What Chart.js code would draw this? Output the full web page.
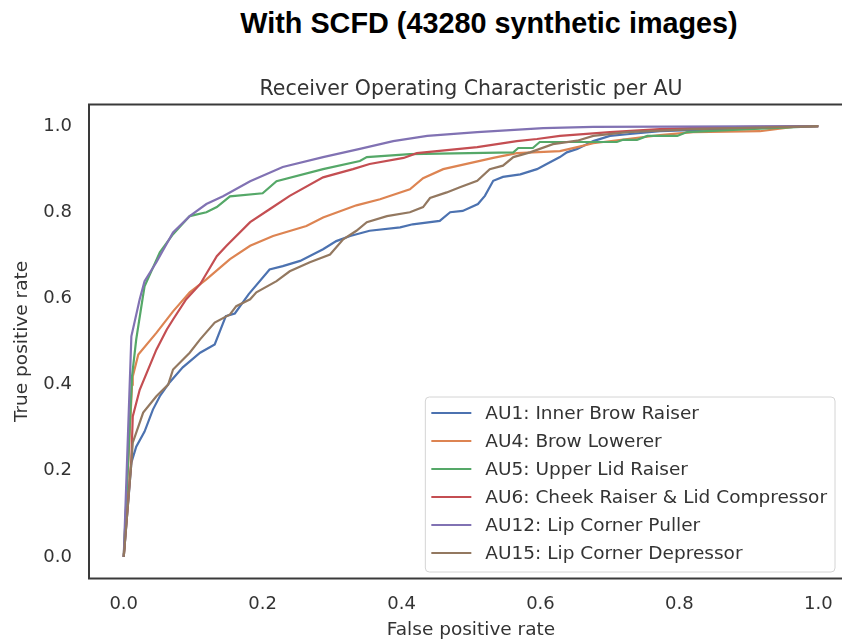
<!DOCTYPE html>
<html>
<head>
<meta charset="utf-8">
<script src="https://cdn.jsdelivr.net/npm/chart.js@4.4.0/dist/chart.umd.min.js"></script>
<style>
  html, body { margin: 0; padding: 0; background: #fff; overflow: hidden; width: 842px; height: 641px; }
  #heading {
    position: absolute; top: 7px; left: 489px; transform: translateX(-50%);
    font-family: "Liberation Sans", Arial, sans-serif; font-weight: bold; font-size: 28.8px;
    color: #000; white-space: nowrap; line-height: 32px;
  }
  #wrap { position: absolute; left: 0; top: 0; width: 942px; height: 641px; }
</style>
</head>
<body>
<div id="heading">With SCFD (43280 synthetic images)</div>
<div id="wrap"><canvas id="roc" width="942" height="641"></canvas></div>
<script>
// ROC curves per action unit
const labels = [
  'AU1: Inner Brow Raiser',
  'AU4: Brow Lowerer',
  'AU5: Upper Lid Raiser',
  'AU6: Cheek Raiser & Lid Compressor',
  'AU12: Lip Corner Puller',
  'AU15: Lip Corner Depressor'
];
const colors = ['#4C72B0', '#DD8452', '#55A868', '#C44E52', '#8172B3', '#937860'];

const au1Fpr = [0, 0.011, 0.018, 0.030, 0.042, 0.052, 0.066, 0.085, 0.110, 0.131, 0.147, 0.160, 0.180, 0.210, 0.229, 0.254, 0.287, 0.306, 0.326, 0.354, 0.398, 0.416, 0.455, 0.470, 0.488, 0.510, 0.520, 0.532, 0.546, 0.571, 0.595, 0.609, 0.628, 0.638, 0.653, 0.676, 0.700, 0.725, 0.772, 0.850, 0.930, 1.0];
const au1Tpr = [0, 0.219, 0.256, 0.291, 0.342, 0.373, 0.405, 0.440, 0.474, 0.493, 0.559, 0.565, 0.610, 0.667, 0.675, 0.687, 0.714, 0.733, 0.745, 0.757, 0.765, 0.772, 0.780, 0.800, 0.803, 0.819, 0.838, 0.873, 0.882, 0.888, 0.900, 0.912, 0.928, 0.939, 0.947, 0.965, 0.977, 0.981, 0.988, 0.992, 0.996, 1.0];

const au4Fpr = [0, 0.012, 0.013, 0.021, 0.047, 0.071, 0.095, 0.119, 0.153, 0.182, 0.215, 0.263, 0.287, 0.335, 0.369, 0.412, 0.431, 0.460, 0.532, 0.566, 0.628, 0.653, 0.676, 0.725, 0.772, 0.820, 0.916, 0.964, 1.0];
const au4Tpr = [0, 0.400, 0.419, 0.470, 0.520, 0.570, 0.614, 0.644, 0.691, 0.722, 0.745, 0.768, 0.788, 0.816, 0.830, 0.853, 0.879, 0.900, 0.926, 0.937, 0.942, 0.951, 0.960, 0.970, 0.979, 0.986, 0.988, 0.998, 1.0];

const au5Fpr = [0, 0.012, 0.018, 0.027, 0.030, 0.052, 0.071, 0.095, 0.119, 0.134, 0.153, 0.200, 0.220, 0.287, 0.340, 0.350, 0.412, 0.561, 0.568, 0.589, 0.599, 0.710, 0.719, 0.739, 0.754, 0.797, 0.811, 0.900, 1.0];
const au5Tpr = [0, 0.420, 0.505, 0.598, 0.628, 0.707, 0.749, 0.791, 0.800, 0.812, 0.837, 0.844, 0.872, 0.900, 0.919, 0.928, 0.935, 0.939, 0.949, 0.949, 0.963, 0.963, 0.968, 0.968, 0.977, 0.977, 0.986, 0.993, 1.0];

const au6Fpr = [0, 0.011, 0.013, 0.023, 0.047, 0.062, 0.071, 0.090, 0.110, 0.134, 0.148, 0.182, 0.210, 0.239, 0.287, 0.330, 0.354, 0.403, 0.422, 0.509, 0.566, 0.595, 0.628, 0.700, 0.772, 0.850, 1.0];
const au6Tpr = [0, 0.226, 0.326, 0.388, 0.481, 0.528, 0.551, 0.598, 0.633, 0.698, 0.722, 0.777, 0.807, 0.838, 0.881, 0.900, 0.912, 0.926, 0.937, 0.951, 0.965, 0.970, 0.977, 0.986, 0.993, 0.997, 1.0];

const au12Fpr = [0, 0.011, 0.023, 0.030, 0.047, 0.071, 0.095, 0.119, 0.143, 0.182, 0.229, 0.287, 0.340, 0.388, 0.437, 0.509, 0.604, 0.676, 1.0];
const au12Tpr = [0, 0.512, 0.598, 0.640, 0.684, 0.753, 0.791, 0.819, 0.837, 0.872, 0.905, 0.928, 0.947, 0.965, 0.977, 0.986, 0.995, 0.998, 1.0];

const au15Fpr = [0, 0.011, 0.013, 0.028, 0.047, 0.064, 0.071, 0.095, 0.110, 0.131, 0.153, 0.162, 0.182, 0.191, 0.220, 0.239, 0.268, 0.297, 0.316, 0.335, 0.350, 0.379, 0.412, 0.431, 0.441, 0.465, 0.484, 0.509, 0.527, 0.546, 0.561, 0.585, 0.618, 0.653, 0.676, 0.725, 0.820, 1.0];
const au15Tpr = [0, 0.219, 0.265, 0.335, 0.373, 0.400, 0.435, 0.474, 0.505, 0.544, 0.563, 0.582, 0.598, 0.614, 0.640, 0.663, 0.684, 0.702, 0.737, 0.757, 0.777, 0.791, 0.800, 0.812, 0.833, 0.846, 0.858, 0.873, 0.900, 0.908, 0.928, 0.939, 0.958, 0.966, 0.977, 0.986, 0.993, 1.0];

const xTicks = [0, 0.2, 0.4, 0.6, 0.8, 1.0];
const yTicks = [0, 0.2, 0.4, 0.6, 0.8, 1.0];

const fprs = [au1Fpr, au4Fpr, au5Fpr, au6Fpr, au12Fpr, au15Fpr];
const tprs = [au1Tpr, au4Tpr, au5Tpr, au6Tpr, au12Tpr, au15Tpr];

const FONT = '"DejaVu Sans", Verdana, sans-serif';
const TEXT = '#333333';

// box around the axes, like matplotlib spines (right side falls off the page)
const frame = {
  id: 'frame',
  afterDatasetsDraw(chart) {
    const { ctx, chartArea: a } = chart;
    ctx.save();
    ctx.strokeStyle = '#3a3a3a';
    ctx.lineWidth = 2;
    ctx.strokeRect(a.left, a.top, a.right - a.left, a.bottom - a.top);
    ctx.restore();
  }
};

// legend in the lower right corner of the plot
const innerLegend = {
  id: 'innerLegend',
  afterDraw(chart) {
    const { ctx, chartArea: a } = chart;
    const sets = chart.data.datasets;
    ctx.save();
    ctx.font = '18.5px ' + FONT;
    let maxW = 0;
    sets.forEach(d => { maxW = Math.max(maxW, ctx.measureText(d.label).width); });
    const w = 60 + maxW + 8;
    const h = 175;
    const right = a.right - 18;
    const bottom = a.bottom - 6.5;
    const left = right - w;
    const top = bottom - h;
    ctx.beginPath();
    ctx.roundRect(left, top, w, h, 4);
    ctx.fillStyle = 'rgba(255,255,255,0.85)';
    ctx.fill();
    ctx.strokeStyle = '#d4d4d4';
    ctx.lineWidth = 1;
    ctx.stroke();
    sets.forEach((d, i) => {
      const y = top + 16 + i * 28;
      ctx.beginPath();
      ctx.moveTo(left + 6, y);
      ctx.lineTo(left + 46, y);
      ctx.strokeStyle = d.borderColor;
      ctx.lineWidth = 2.2;
      ctx.stroke();
      ctx.fillStyle = TEXT;
      ctx.textBaseline = 'middle';
      ctx.textAlign = 'left';
      ctx.fillText(d.label, left + 60, y + 1);
    });
    ctx.restore();
  }
};

const datasets = labels.map((label, i) => ({
  label,
  data: fprs[i].map((x, j) => ({ x, y: tprs[i][j] })),
  borderColor: colors[i],
  backgroundColor: colors[i],
  borderWidth: 2.2,
  pointRadius: 0,
  tension: 0,
  fill: false,
  order: labels.length - i
}));

new Chart(document.getElementById('roc'), {
  type: 'line',
  data: { datasets },
  plugins: [frame, innerLegend],
  options: {
    responsive: false,
    animation: false,
    layout: { padding: { left: 0, right: 89, top: 0, bottom: 0 } },
    plugins: {
      legend: { display: false },
      tooltip: { enabled: false },
      title: {
        display: true,
        fullSize: false,
        text: 'Receiver Operating Characteristic per AU',
        color: TEXT,
        font: { family: FONT, size: 20.5, weight: 'normal' },
        padding: { top: 77.7, bottom: 2.2 }
      }
    },
    scales: {
      x: {
        type: 'linear',
        min: -0.05,
        max: 1.05,
        afterBuildTicks: s => { s.ticks = xTicks.map(v => ({ value: v })); },
        afterFit: s => { s.height = 62.5; },
        grid: { display: false, drawTicks: false },
        border: { display: false },
        ticks: {
          color: TEXT,
          font: { family: FONT, size: 18 },
          padding: 15,
          maxRotation: 0,
          callback: v => v.toFixed(1)
        },
        title: {
          display: true,
          text: 'False positive rate',
          color: TEXT,
          font: { family: FONT, size: 18.5 },
          padding: { top: 0, bottom: 0 }
        }
      },
      y: {
        type: 'linear',
        min: -0.05,
        max: 1.05,
        afterBuildTicks: s => { s.ticks = yTicks.map(v => ({ value: v })); },
        afterFit: s => { s.width = 89; },
        grid: { display: false, drawTicks: false },
        border: { display: false },
        ticks: {
          color: TEXT,
          font: { family: FONT, size: 18 },
          padding: 17,
          callback: v => v.toFixed(1)
        },
        title: {
          display: true,
          text: 'True positive rate',
          color: TEXT,
          font: { family: FONT, size: 18.5 },
          padding: { top: 11, bottom: 0 }
        }
      }
    }
  }
});
</script>
</body>
</html>
